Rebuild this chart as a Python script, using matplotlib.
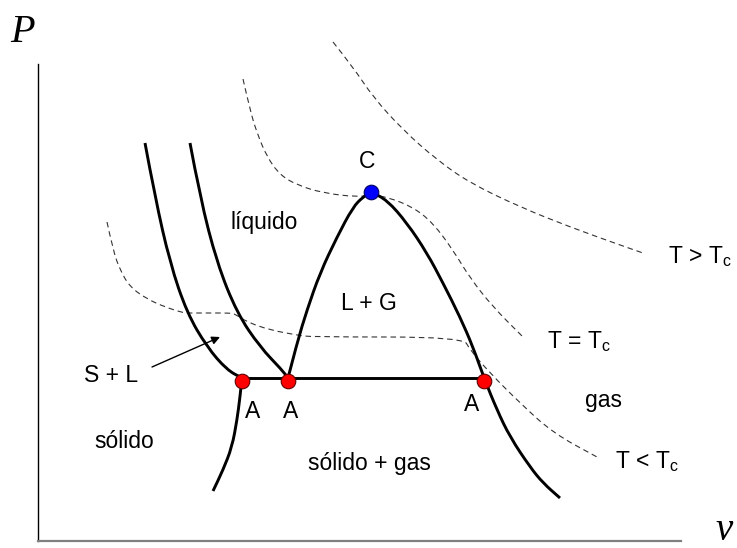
import matplotlib
matplotlib.use("Agg")
import matplotlib.pyplot as plt
from matplotlib.path import Path
from matplotlib.patches import PathPatch

plt.rcParams["font.family"] = ["Liberation Sans", "DejaVu Sans"]
plt.rcParams["mathtext.fontset"] = "custom"
plt.rcParams["mathtext.rm"] = "Liberation Sans"
plt.rcParams["mathtext.it"] = "Liberation Sans:italic"

# ---- phase boundaries (v, P) ----
melt_solid_v = [107, 117, 132, 149, 169, 189, 204]
melt_solid_P = [398, 344, 278, 228, 194, 171, 163]

melt_liquid_v = [152, 162, 179, 199, 222, 244, 250]
melt_liquid_P = [398, 344, 278, 228, 194, 171, 163]

subl_v = [204, 202, 199, 194, 185, 175]
subl_P = [163, 144, 121, 94, 71, 50]

dome_v = [250, 259, 269, 282, 299, 315, 325, 333, 349, 369, 389, 405, 422, 435,
          446, 459, 472, 492, 505, 522]
dome_P = [163, 198, 231, 268, 304, 334, 344, 349, 341, 318, 288, 258, 224, 194,
          163, 131, 104, 74, 58, 43]

triple_v = [204, 446]
triple_P = [163, 163]

# ---- isotherms ----
iso_hot_v = [295, 315, 335, 365, 399, 432, 482, 532, 582, 605]
iso_hot_P = [499, 474, 444, 411, 381, 358, 334, 314, 296, 288]

iso_crit_v = [205, 212, 219, 229, 242, 259, 285, 319, 333, 349, 375, 395, 415,
              432, 455, 484]
iso_crit_P = [462, 431, 408, 384, 366, 356, 348, 344, 346, 344, 334, 318, 291,
              263, 234, 205]

iso_cold_v = [69, 75, 82, 92, 109, 127, 146, 150, 170, 192, 197, 209, 232, 259,
              272, 425, 432, 452, 482, 515, 559]
iso_cold_P = [319, 291, 271, 254, 242, 234, 228, 228, 228, 228, 227, 219, 211,
              206, 204, 204, 191, 168, 138, 108, 84]

# ---- special points ----
triple_pts_v = [204, 250, 446]
triple_pts_P = [160, 160, 160]
crit_v = [333]
crit_P = [349]

# ---- labels ----
region_labels = ["líquido", "L + G", "S + L", "sólido", "sólido + gas", "gas"]
region_v = [226, 331, 73, 86, 331, 566]
region_P = [312, 231, 159, 93, 71, 134]

iso_labels = [r"T > T$_\mathrm{c}$", r"T = T$_\mathrm{c}$", r"T < T$_\mathrm{c}$"]
iso_label_v = [630, 509, 577]
iso_label_P = [278, 193, 73]

point_labels = ["A", "A", "A", "C"]
point_label_v = [215, 253, 434, 329]
point_label_P = [123, 123, 130, 373]


def smooth_curve(vs, Ps):
    """Quadratic-Bezier path using the listed points as control points."""
    pts = list(zip(vs, Ps))
    verts = [pts[0]]
    codes = [Path.MOVETO]
    for i in range(1, len(pts) - 1):
        nxt = pts[i + 1]
        mid = ((pts[i][0] + nxt[0]) / 2, (pts[i][1] + nxt[1]) / 2)
        verts += [pts[i], mid]
        codes += [Path.CURVE3, Path.CURVE3]
    verts.append(pts[-1])
    codes.append(Path.LINETO)
    return Path(verts, codes)


fig = plt.figure(figsize=(7.37, 5.48), dpi=100)
ax = fig.add_axes([38 / 737, 7 / 548, 643 / 737, 477 / 548])
ax.set_xlim(0, 643)
ax.set_ylim(0, 477)
ax.set_xticks([])
ax.set_yticks([])
for side in ("top", "right"):
    ax.spines[side].set_visible(False)
ax.spines["left"].set_color("black")
ax.spines["left"].set_linewidth(1.0)
ax.spines["bottom"].set_color("#808080")
ax.spines["bottom"].set_linewidth(1.6)

for vs, Ps in ((iso_hot_v, iso_hot_P), (iso_crit_v, iso_crit_P),
               (iso_cold_v, iso_cold_P)):
    ax.add_patch(PathPatch(smooth_curve(vs, Ps), fill=False, edgecolor="#333333",
                           lw=0.8, linestyle=(0, (5, 3.5)), clip_on=False,
                           zorder=2))

for vs, Ps in ((melt_solid_v, melt_solid_P), (melt_liquid_v, melt_liquid_P),
               (subl_v, subl_P), (dome_v, dome_P)):
    ax.add_patch(PathPatch(smooth_curve(vs, Ps), fill=False, edgecolor="black",
                           lw=2.1, capstyle="butt", joinstyle="round",
                           clip_on=False, zorder=3))
ax.plot(triple_v, triple_P, color="black", lw=2.1, solid_capstyle="butt",
        clip_on=False, zorder=3)

ax.plot(triple_pts_v, triple_pts_P, "o", ms=10.5, mfc="#ff0000",
        mec="#600000", mew=0.8, zorder=5, clip_on=False)
ax.plot(crit_v, crit_P, "o", ms=10.5, mfc="#0000ff", mec="#000060",
        mew=0.8, zorder=5, clip_on=False)

ax.annotate("", xy=(182, 204), xytext=(114, 174),
            arrowprops=dict(arrowstyle="-|>", color="black", lw=1.0,
                            mutation_scale=12, shrinkA=0, shrinkB=0))

for t, x, y in zip(region_labels, region_v, region_P):
    ax.text(x, y, t, fontsize=16.5, ha="center", va="baseline")
for t, x, y in zip(point_labels, point_label_v, point_label_P):
    ax.text(x, y, t, fontsize=16.5, ha="center", va="baseline")
for t, x, y in zip(iso_labels, iso_label_v, iso_label_P):
    ax.text(x, y, t, fontsize=16.5, ha="left", va="baseline")

ax.text(-28, 499, "P", fontsize=29, family="Liberation Serif",
        style="italic", ha="left", va="baseline", clip_on=False)
ax.text(677, 1, "v", fontsize=28, family="Liberation Serif",
        style="italic", ha="left", va="baseline", clip_on=False)

fig.savefig("out.png", dpi=100)
